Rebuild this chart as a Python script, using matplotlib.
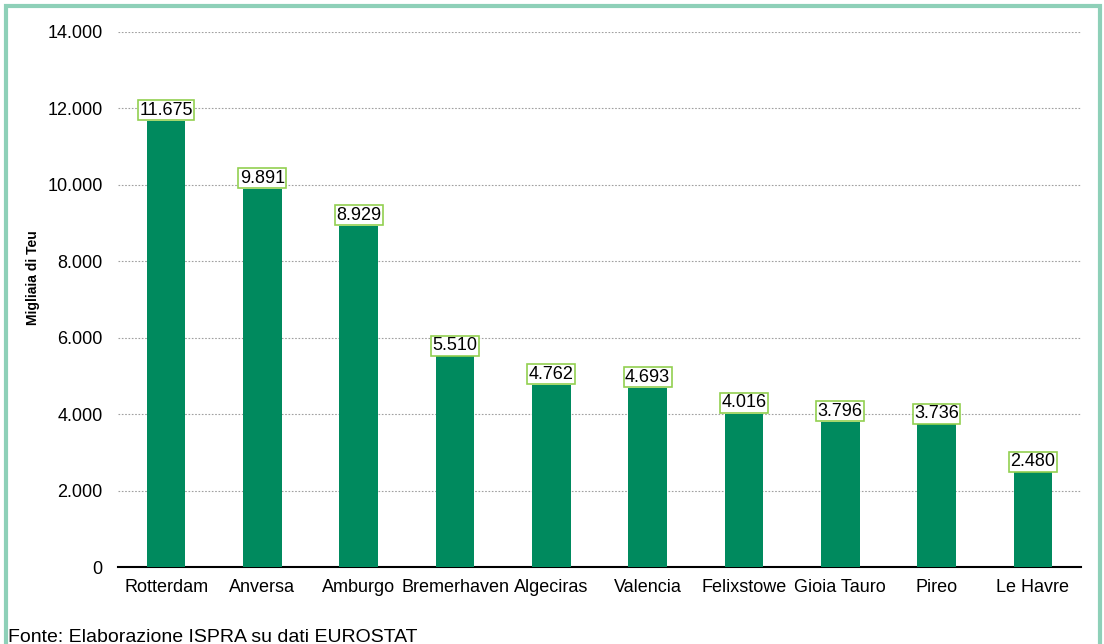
import matplotlib.pyplot as plt
from matplotlib.patches import Rectangle
from matplotlib.ticker import FuncFormatter

porti = ['Rotterdam', 'Anversa', 'Amburgo', 'Bremerhaven', 'Algeciras',
         'Valencia', 'Felixstowe', 'Gioia Tauro', 'Pireo', 'Le Havre']
teu = [11675, 9891, 8929, 5510, 4762, 4693, 4016, 3796, 3736, 2480]

plt.rcParams['font.family'] = ['Liberation Sans', 'DejaVu Sans']

fig = plt.figure(figsize=(11.04, 6.44), dpi=100)
ax = fig.add_axes([118 / 1104, 1 - 567 / 644, (1081 - 118) / 1104, (567 - 32) / 644])

# figure border (open at the bottom)
fig.patches.append(Rectangle((6 / 1104, -0.05), (1100 - 6) / 1104, 1.05 - 6 / 644,
                             transform=fig.transFigure, fill=False,
                             edgecolor='#8ed0b8', linewidth=3))

ax.bar(range(len(porti)), teu, width=0.4, color='#008a5e', zorder=3)
ax.set_xlim(-0.5, len(porti) - 0.5)
ax.set_ylim(0, 14000)
ax.set_yticks(range(0, 14001, 2000))
ax.yaxis.set_major_formatter(FuncFormatter(lambda v, p: f'{int(v):,}'.replace(',', '.')))
ax.set_xticks(range(len(porti)))
ax.set_xticklabels(porti)
ax.tick_params(axis='both', length=0, labelsize=13, colors='black')
ax.tick_params(axis='y', pad=11)
ax.tick_params(axis='x', pad=9)
ax.grid(axis='y', linestyle=(0, (1.5, 1.5)), color='#a0a0a0', linewidth=0.8, zorder=0)
for s in ['top', 'right', 'left']:
    ax.spines[s].set_visible(False)
ax.spines['bottom'].set_linewidth(1.5)
ax.set_ylabel('Migliaia di Teu', fontsize=10, fontweight='bold')
ax.yaxis.set_label_coords((40 - 118) / 963, (567 - 278) / 535)

for i, v in enumerate(teu):
    ax.annotate(f'{v:,}'.replace(',', '.'), (i, v), xytext=(0, 1.5),
                textcoords='offset points', ha='center', va='bottom', fontsize=13,
                bbox=dict(boxstyle='square,pad=0.08', facecolor='white',
                          edgecolor='#92d050', linewidth=1.2), zorder=4)

fig.text(8 / 1104, 1 - 642 / 644, 'Fonte: Elaborazione ISPRA su dati EUROSTAT',
         fontsize=14, va='baseline', ha='left')

fig.savefig('out.png', dpi=100)
